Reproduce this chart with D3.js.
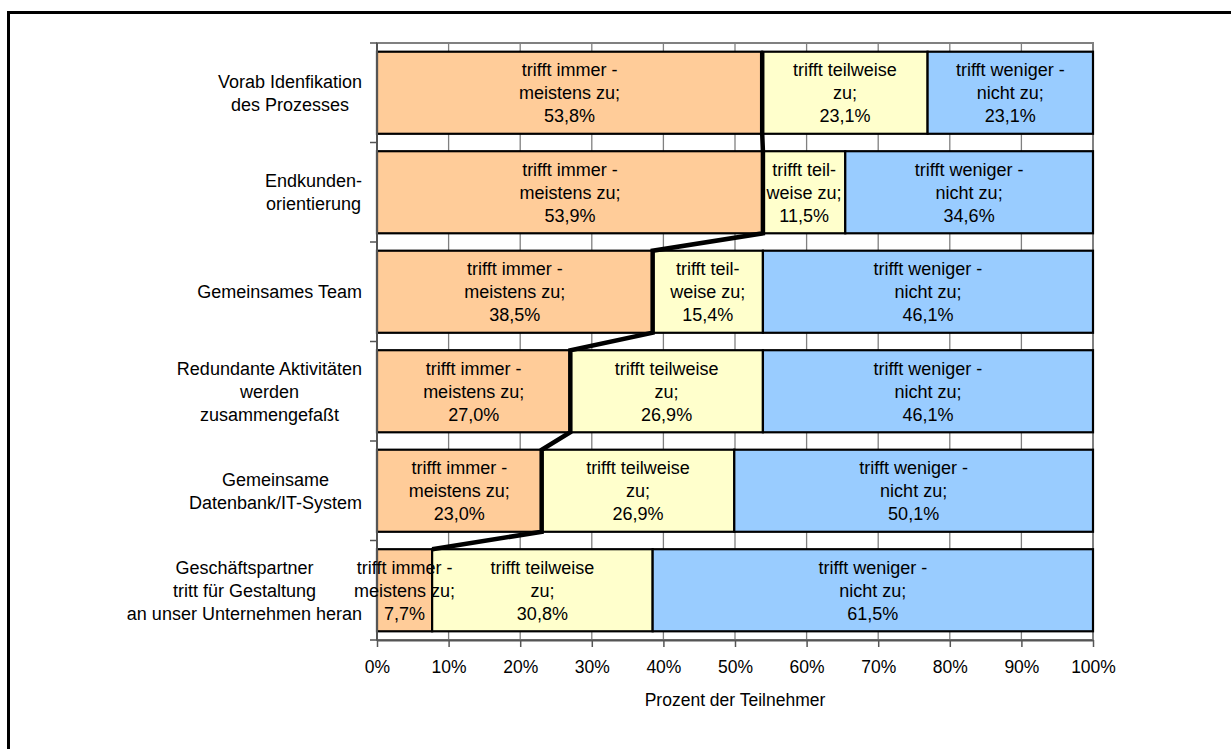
<!DOCTYPE html>
<html>
<head>
<meta charset="utf-8">
<script src="https://cdn.jsdelivr.net/npm/d3@7"></script>
<style>
  html, body { margin: 0; padding: 0; background: #fff; }
  svg { display: block; font-family: "Liberation Sans", Arial, sans-serif; }
</style>
</head>
<body>
<svg id="chart" width="1231" height="749"></svg>
<script>
// ---- Data ----
const categories = [
  ["Vorab Idenfikation", "des Prozesses"],
  ["Endkunden-", "orientierung"],
  ["Gemeinsames Team"],
  ["Redundante Aktivitäten", "werden", "zusammengefaßt"],
  ["Gemeinsame", "Datenbank/IT-System"],
  ["Geschäftspartner", "tritt für Gestaltung", "an unser Unternehmen heran"]
];
const seriesNames = ["trifft immer - meistens zu", "trifft teilweise zu", "trifft weniger - nicht zu"];
const immerMeistens = [53.8, 53.9, 38.5, 27.0, 23.0, 7.7];
const teilweise     = [23.1, 11.5, 15.4, 26.9, 26.9, 30.8];
const wenigerNicht  = [23.1, 34.6, 46.1, 46.1, 50.1, 61.5];
// label text lines for each segment (category index x series index)
const segLabels = [
  [["trifft immer -", "meistens zu;"], ["trifft teilweise", "zu;"], ["trifft weniger -", "nicht zu;"]],
  [["trifft immer -", "meistens zu;"], ["trifft teil-", "weise zu;"], ["trifft weniger -", "nicht zu;"]],
  [["trifft immer -", "meistens zu;"], ["trifft teil-", "weise zu;"], ["trifft weniger -", "nicht zu;"]],
  [["trifft immer -", "meistens zu;"], ["trifft teilweise", "zu;"], ["trifft weniger -", "nicht zu;"]],
  [["trifft immer -", "meistens zu;"], ["trifft teilweise", "zu;"], ["trifft weniger -", "nicht zu;"]],
  [["trifft immer -", "meistens zu;"], ["trifft teilweise", "zu;"], ["trifft weniger -", "nicht zu;"]]
];
const xTicks = [0, 10, 20, 30, 40, 50, 60, 70, 80, 90, 100];
const xTitle = "Prozent der Teilnehmer";
const colors = ["#FFCC99", "#FFFFCC", "#99CCFF"];

// ---- Layout ----
const svg = d3.select("#chart");
const plot = { left: 377, right: 1093, top: 43, bottom: 640 };
const x = d3.scaleLinear().domain([0, 100]).range([plot.left, plot.right]);
const idx = categories.map((d, i) => i);
const y = d3.scaleBand().domain(idx).range([plot.top, plot.bottom])
  .paddingInner(0.175).paddingOuter(0.0875);

const fmt = v => v.toFixed(1).replace(".", ",") + "%";

// outer frame
svg.append("rect").attr("x", 8.5).attr("y", 12.5).attr("width", 1300).attr("height", 800)
  .attr("fill", "none").attr("stroke", "#000").attr("stroke-width", 3);

// plot area border + gridlines
svg.append("rect").attr("x", plot.left).attr("y", plot.top)
  .attr("width", plot.right - plot.left).attr("height", plot.bottom - plot.top)
  .attr("fill", "#fff").attr("stroke", "#808080").attr("stroke-width", 2);
svg.append("g").selectAll("line").data(xTicks.slice(1, -1)).join("line")
  .attr("x1", d => x(d)).attr("x2", d => x(d))
  .attr("y1", plot.top).attr("y2", plot.bottom)
  .attr("stroke", "#808080").attr("stroke-width", 1.3);

// stacked data
const rows = idx.map(i => {
  const vals = [immerMeistens[i], teilweise[i], wenigerNicht[i]];
  let acc = 0;
  return vals.map((v, s) => { const o = { i, s, v, x0: acc, x1: acc + v }; acc += v; return o; });
});
const segs = rows.flat();

// bars
svg.append("g").selectAll("rect").data(segs).join("rect")
  .attr("x", d => x(d.x0)).attr("y", d => y(d.i))
  .attr("width", d => x(Math.min(d.x1, 100)) - x(d.x0))
  .attr("height", y.bandwidth())
  .attr("fill", d => colors[d.s])
  .attr("stroke", "#000").attr("stroke-width", 2.2);

// axes
const xAxis = d3.axisBottom(x).tickValues(xTicks).tickFormat(d => d + "%").tickSize(7).tickSizeOuter(0);
const gx = svg.append("g").attr("transform", `translate(0,${plot.bottom})`).call(xAxis);
gx.select(".domain").attr("stroke", "#555").attr("stroke-width", 2);
gx.selectAll(".tick line").attr("stroke", "#555").attr("stroke-width", 1.5);
gx.selectAll(".tick text").attr("font-size", "17.5px").attr("fill", "#000")
  .attr("font-family", "'Liberation Sans', Arial, sans-serif").attr("dy", "0").attr("y", 33);

const yBounds = d3.range(categories.length + 1).map(k => plot.top + k * y.step());
const gy = svg.append("g");
gy.append("line").attr("x1", plot.left).attr("x2", plot.left).attr("y1", plot.top).attr("y2", plot.bottom)
  .attr("stroke", "#555").attr("stroke-width", 2);
gy.selectAll("line.tk").data(yBounds).join("line").attr("class", "tk")
  .attr("x1", plot.left - 7).attr("x2", plot.left).attr("y1", d => d).attr("y2", d => d)
  .attr("stroke", "#555").attr("stroke-width", 1.5);

// segment labels
const lh = 23;
const lbl = svg.append("g").attr("font-size", "18px").attr("fill", "#000").attr("text-anchor", "middle");
segs.forEach(d => {
  const lines = segLabels[d.i][d.s].concat([fmt(d.v)]);
  const cx = (x(d.x0) + x(Math.min(d.x1, 100))) / 2;
  const cy = y(d.i) + y.bandwidth() / 2;
  const t = lbl.append("text").attr("x", cx).attr("y", cy - (lines.length - 1) / 2 * lh).attr("dy", "0.35em");
  lines.forEach((ln, k) => t.append("tspan").attr("x", cx).attr("dy", k === 0 ? "0.35em" : lh).text(ln));
  t.attr("dy", null);
});

// series line (thick black)
const pts = [];
idx.forEach(i => {
  const xv = x(immerMeistens[i]);
  pts.push([xv, y(i)]);
  if (i < idx.length - 1) pts.push([xv, y(i) + y.bandwidth()]);
});
svg.append("path").attr("d", d3.line()(pts)).attr("fill", "none")
  .attr("stroke", "#000").attr("stroke-width", 4.5).attr("stroke-linejoin", "miter");

// category labels (centered block, right aligned to axis)
const cat = svg.append("g").attr("font-size", "18px").attr("fill", "#000").attr("text-anchor", "middle");
categories.forEach((lines, i) => {
  const cy = y(i) + y.bandwidth() / 2;
  const t = cat.append("text").attr("y", cy - (lines.length - 1) / 2 * lh);
  const spans = lines.map((ln, k) => t.append("tspan").attr("dy", k === 0 ? "0.35em" : lh).text(ln));
  let maxW = 0;
  spans.forEach(s => { maxW = Math.max(maxW, s.node().getComputedTextLength()); });
  const cx = 362 - maxW / 2;
  spans.forEach(s => s.attr("x", cx));
});

// axis title
svg.append("text").attr("x", (plot.left + plot.right) / 2).attr("y", 700).attr("dy", "0.35em")
  .attr("text-anchor", "middle").attr("font-size", "17.5px").text(xTitle);
</script>
</body>
</html>
